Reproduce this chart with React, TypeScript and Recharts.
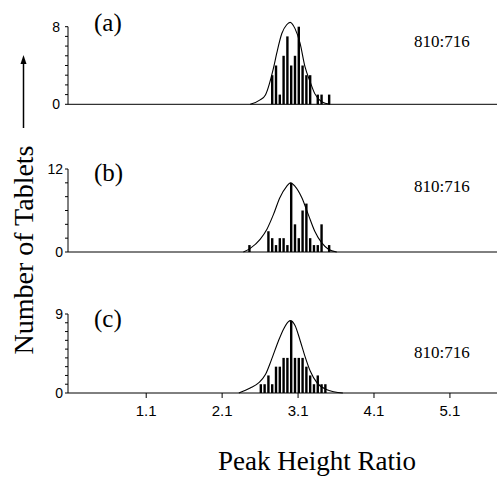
import React from 'react';
import { ComposedChart, Bar, Line, XAxis, YAxis, ReferenceLine } from 'recharts';

// ---------- data ----------
const xTicks = [1.1, 2.1, 3.1, 4.1, 5.1];
const panelLabels = ['(a)', '(b)', '(c)'];
const ratioLabel = '810:716';
const yAxisTitle = 'Number of Tablets';
const xAxisTitle = 'Peak Height Ratio';

// panel (a)
const binsA = [2.76, 2.81, 2.86, 2.91, 2.96, 3.01, 3.06, 3.11, 3.16, 3.21, 3.26, 3.36, 3.41, 3.51];
const countsA = [3, 4, 1, 5, 7, 4, 5, 8, 4, 3, 3, 1, 1, 1];
const fitXA = [2.47, 2.6, 2.67, 2.775, 2.82, 2.886, 2.95, 2.995, 3.06, 3.126, 3.19, 3.26, 3.32, 3.41, 3.52];
const fitYA = [0, 0.45, 0.96, 3.7, 5.3, 7.3, 8.2, 8.45, 7.8, 6.3, 3.9, 2.3, 1.1, 0.27, 0];
const yTicksA = [0, 1, 2, 3, 4, 5, 6, 7, 8];
const yLabelsA = [0, 8];

// panel (b)
const binsB = [2.46, 2.71, 2.76, 2.81, 2.86, 2.91, 2.96, 3.01, 3.06, 3.11, 3.16, 3.21, 3.26, 3.31, 3.36, 3.41, 3.51];
const countsB = [1, 3, 2, 1, 2, 2, 1, 10, 4, 2, 6, 7, 2, 1, 1, 4, 1];
const fitXB = [2.38, 2.47, 2.6, 2.69, 2.775, 2.86, 2.95, 3.0, 3.06, 3.15, 3.235, 3.32, 3.41, 3.5, 3.61];
const fitYB = [0, 0.53, 1.83, 3.3, 5.4, 7.85, 9.5, 10, 9.5, 7.85, 5.4, 3.0, 1.35, 0.4, 0];
const yTicksB = [0, 2, 4, 6, 8, 10, 12];
const yLabelsB = [0, 12];

// panel (c)
const binsC = [2.61, 2.66, 2.71, 2.76, 2.81, 2.86, 2.91, 2.96, 3.01, 3.06, 3.11, 3.16, 3.21, 3.26, 3.31, 3.36, 3.41, 3.46];
const countsC = [1, 1, 2, 1, 3, 3, 4, 4, 8.2, 4, 4, 4, 3, 2, 1, 2, 1, 1];
const fitXC = [2.32, 2.47, 2.58, 2.67, 2.75, 2.84, 2.91, 2.97, 3.0, 3.06, 3.13, 3.19, 3.26, 3.35, 3.48, 3.69];
const fitYC = [0, 0.57, 1.15, 2.1, 3.8, 5.9, 7.3, 8.1, 8.25, 7.7, 5.9, 4.2, 2.5, 1.15, 0.38, 0];
const yTicksC = [0, 1, 2, 3, 4, 5, 6, 7, 8, 9];
const yLabelsC = [0, 9];

// ---------- layout ----------
const X_MIN = 0.07;
const X_MAX = 5.72;
const W = 497;
const BAR_W = 2.4;
const SANS = '"Liberation Sans", Arial, sans-serif';
const SERIF = '"Liberation Serif", "Times New Roman", serif';

const zip = (xs: number[], ys: number[], key: string) => xs.map((x, i) => ({ x, [key]: ys[i] }));

const panels = [
  {
    bars: zip(binsA, countsA, 'n'), fit: zip(fitXA, fitYA, 'y'),
    yTicks: yTicksA, yLabels: yLabelsA, yMax: 8.7, yTop: 8,
    top: 0, height: 130, margin: { top: 19.9, right: 0, bottom: 5.7, left: 0 },
    xAxisHeight: 20, showX: false, tickMargin: 5,
  },
  {
    bars: zip(binsB, countsB, 'n'), fit: zip(fitXB, fitYB, 'y'),
    yTicks: yTicksB, yLabels: yLabelsB, yMax: 12, yTop: 12,
    top: 130, height: 150, margin: { top: 39, right: 0, bottom: 8, left: 0 },
    xAxisHeight: 20, showX: false, tickMargin: 2,
  },
  {
    bars: zip(binsC, countsC, 'n'), fit: zip(fitXC, fitYC, 'y'),
    yTicks: yTicksC, yLabels: yLabelsC, yMax: 9, yTop: 9,
    top: 280, height: 197, margin: { top: 34, right: 0, bottom: 54, left: 0 },
    xAxisHeight: 30, showX: true, tickMargin: 2,
  },
];

const makeYTick = (labels: number[]) => (props: any) => {
  const { x, y, payload } = props;
  if (!labels.includes(payload.value)) return <g />;
  return (
    <text x={x} y={y} dy="0.355em" textAnchor="end" fontSize={14} fontFamily={SANS} fill="#000">
      {payload.value}
    </text>
  );
};

const BarShape = (props: any) => {
  const { x, y, width, height } = props;
  if (!height || height <= 0) return <g />;
  const cx = x + width / 2;
  return <rect x={cx - BAR_W / 2} y={y} width={BAR_W} height={height} fill="#000" />;
};

const Panel = ({ p }: { p: any }) => (
  <div style={{ position: 'absolute', left: 0, top: p.top, width: W, height: p.height }}>
    <ComposedChart width={W} height={p.height} data={p.bars} margin={p.margin}>
      <XAxis
        type="number"
        dataKey="x"
        domain={[X_MIN, X_MAX]}
        allowDataOverflow
        ticks={xTicks}
        interval={0}
        height={p.xAxisHeight}
        axisLine={{ stroke: '#000', strokeWidth: 1 }}
        tickLine={{ stroke: '#000', strokeWidth: 1 }}
        tickSize={5}
        tickMargin={7}
        tick={p.showX ? { fontSize: 15, fill: '#000', fontFamily: SANS } : false}
      />
      <YAxis
        type="number"
        domain={[0, p.yMax]}
        ticks={p.yTicks}
        interval={0}
        width={68}
        axisLine={false}
        tickLine={{ stroke: '#000', strokeWidth: 1 }}
        tickSize={3}
        tickMargin={p.tickMargin}
        tick={makeYTick(p.yLabels)}
      />
      <ReferenceLine
        segment={[{ x: X_MIN, y: 0 }, { x: X_MIN, y: p.yTop }]}
        stroke="#000"
        strokeWidth={1}
        ifOverflow="visible"
      />
      <Bar dataKey="n" fill="#000" barSize={2} shape={BarShape} isAnimationActive={false} />
      <Line
        data={p.fit}
        dataKey="y"
        type="monotone"
        stroke="#000"
        strokeWidth={1.1}
        dot={false}
        activeDot={false}
        isAnimationActive={false}
      />
    </ComposedChart>
  </div>
);

export default function App() {
  const titleY = [31, 181, 327];
  const ratioY = [47, 192, 358];
  return (
    <div style={{ position: 'absolute', left: 0, top: 0, width: W, height: 477, background: '#fff', overflow: 'hidden' }}>
      {panels.map((p, i) => (
        <Panel key={i} p={p} />
      ))}
      <svg width={W} height={477} style={{ position: 'absolute', left: 0, top: 0, pointerEvents: 'none' }}>
        {panelLabels.map((t, i) => (
          <text key={t} x={94} y={titleY[i]} fontSize={25} fontFamily={SERIF} fill="#000">{t}</text>
        ))}
        {panelLabels.map((t, i) => (
          <text key={'r' + t} x={414} y={ratioY[i]} fontSize={17} fontFamily={SERIF} fill="#000">{ratioLabel}</text>
        ))}
        <text
          x={33}
          y={250}
          transform="rotate(-90, 33, 250)"
          textAnchor="middle"
          fontSize={28}
          fontFamily={SERIF}
          fill="#000"
        >
          {yAxisTitle}
        </text>
        <line x1={23.5} y1={128} x2={23.5} y2={62} stroke="#000" strokeWidth={1.5} />
        <polygon points="23.5,55 20.5,64 26.5,64" fill="#000" />
        <text x={317} y={470} textAnchor="middle" fontSize={27} fontFamily={SERIF} fill="#000">
          {xAxisTitle}
        </text>
      </svg>
    </div>
  );
}
